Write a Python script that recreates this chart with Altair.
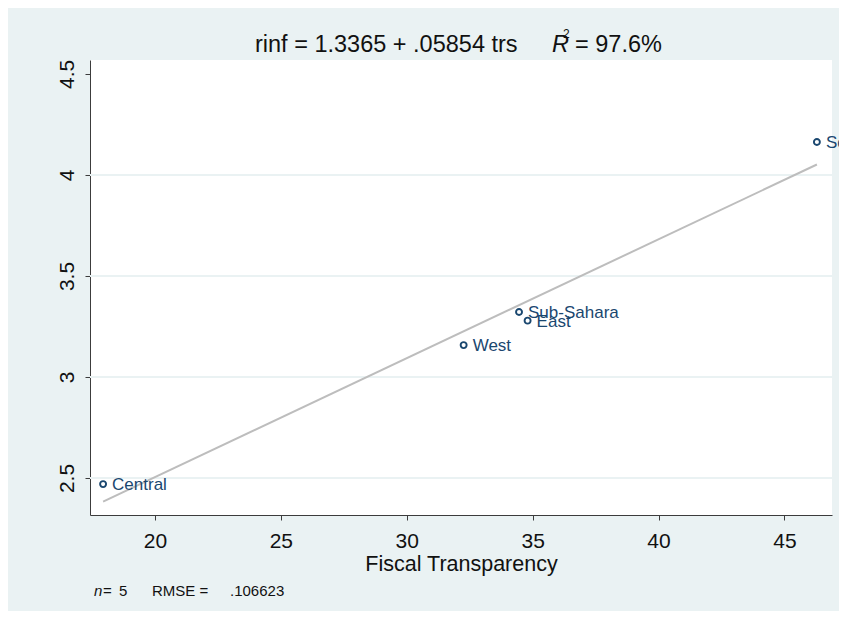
import altair as alt
import pandas as pd

regions = ["Central", "West", "Sub-Sahara", "East", "South"]
trs = [17.94, 32.26, 34.46, 34.80, 46.29]
rinf = [2.47, 3.158, 3.322, 3.279, 4.163]

x_ticks = [20, 25, 30, 35, 40, 45]
y_ticks = [2.5, 3, 3.5, 4, 4.5]
grid_vals = [2.5, 3, 3.5, 4]

title_main = "rinf = 1.3365 + .05854 trs"
title_r = "R"
title_sup = "2"
title_rest = "= 97.6%"
foot_parts = ["n", "=", "5", "RMSE =", ".106623"]

NAVY = "#1A476F"
BG = "#EAF2F3"
FONT = "Liberation Sans"
INK = "#111111"

df = pd.DataFrame({"region": regions, "trs": trs, "rinf": rinf})
grid_df = pd.DataFrame({"rinf": grid_vals})
txt_df = pd.DataFrame({"main": [title_main], "r": [title_r], "sup": [title_sup],
                       "rest": [title_rest],
                       **{f"f{i}": [p] for i, p in enumerate(foot_parts)}})

xs = alt.Scale(domain=[17.42, 46.89], nice=False, zero=False)
ys = alt.Scale(domain=[2.317, 4.569], nice=False, zero=False)

x_enc = alt.X("trs:Q", scale=xs, title="Fiscal Transparency",
              axis=alt.Axis(values=x_ticks, grid=False, domainColor="#3c3c3c",
                            tickColor="#3c3c3c", tickSize=5, labelFontSize=21,
                            labelFont=FONT, labelColor=INK, labelPadding=10,
                            titleFont=FONT, titleFontSize=21.5, titleFontWeight="normal",
                            titleColor=INK, titlePadding=2))
y_enc = alt.Y("rinf:Q", scale=ys, title=None,
              axis=alt.Axis(values=y_ticks, format="~g", grid=False,
                            domainColor="#3c3c3c", tickColor="#3c3c3c", tickSize=5,
                            labelFontSize=21, labelFont=FONT, labelColor=INK,
                            labelAngle=270, labelAlign="center",
                            labelBaseline="alphabetic", labelPadding=12))

grid = alt.Chart(grid_df).mark_rule(color=BG, strokeWidth=2).encode(y=y_enc)

line = alt.Chart(df).transform_regression("trs", "rinf").mark_line(
    color="#BDBDBD", strokeWidth=2).encode(x=x_enc, y=y_enc)

pts = alt.Chart(df).mark_point(shape="circle", filled=False, color=NAVY,
                               size=36, strokeWidth=1.9, opacity=1).encode(
    x=x_enc, y=y_enc)

labels = alt.Chart(df).mark_text(align="left", baseline="middle", dx=9, dy=1,
                                 color=NAVY, font=FONT, fontSize=17).encode(
    x=x_enc, y=y_enc, text="region:N")


def txt(col, x, y, size, style="normal"):
    return alt.Chart(txt_df).mark_text(align="left", baseline="alphabetic", font=FONT,
                                       fontSize=size, fontStyle=style,
                                       color=INK).encode(
        x=alt.value(x), y=alt.value(y), text=f"{col}:N")


title_layers = [
    txt("main", 165, -8, 23.5),
    txt("r", 462, -8, 23.5, "italic"),
    txt("sup", 473, -22, 12),
    txt("rest", 485, -8, 23.5),
]
foot_x = [4, 13, 29, 62, 140]
foot_layers = [txt(f"f{i}", foot_x[i], 535.5, 15, "italic" if i == 0 else "normal")
               for i in range(len(foot_parts))]

chart = alt.layer(grid, line, pts, labels, *title_layers, *foot_layers).properties(
    width=742, height=455,
    autosize=alt.AutoSizeParams(type="none"),
    padding={"left": 82, "top": 52, "right": 7, "bottom": 96},
    background=BG,
).configure_view(fill="white", stroke=None)

chart.save("out.html", embed_options={"renderer": "svg", "actions": False})
